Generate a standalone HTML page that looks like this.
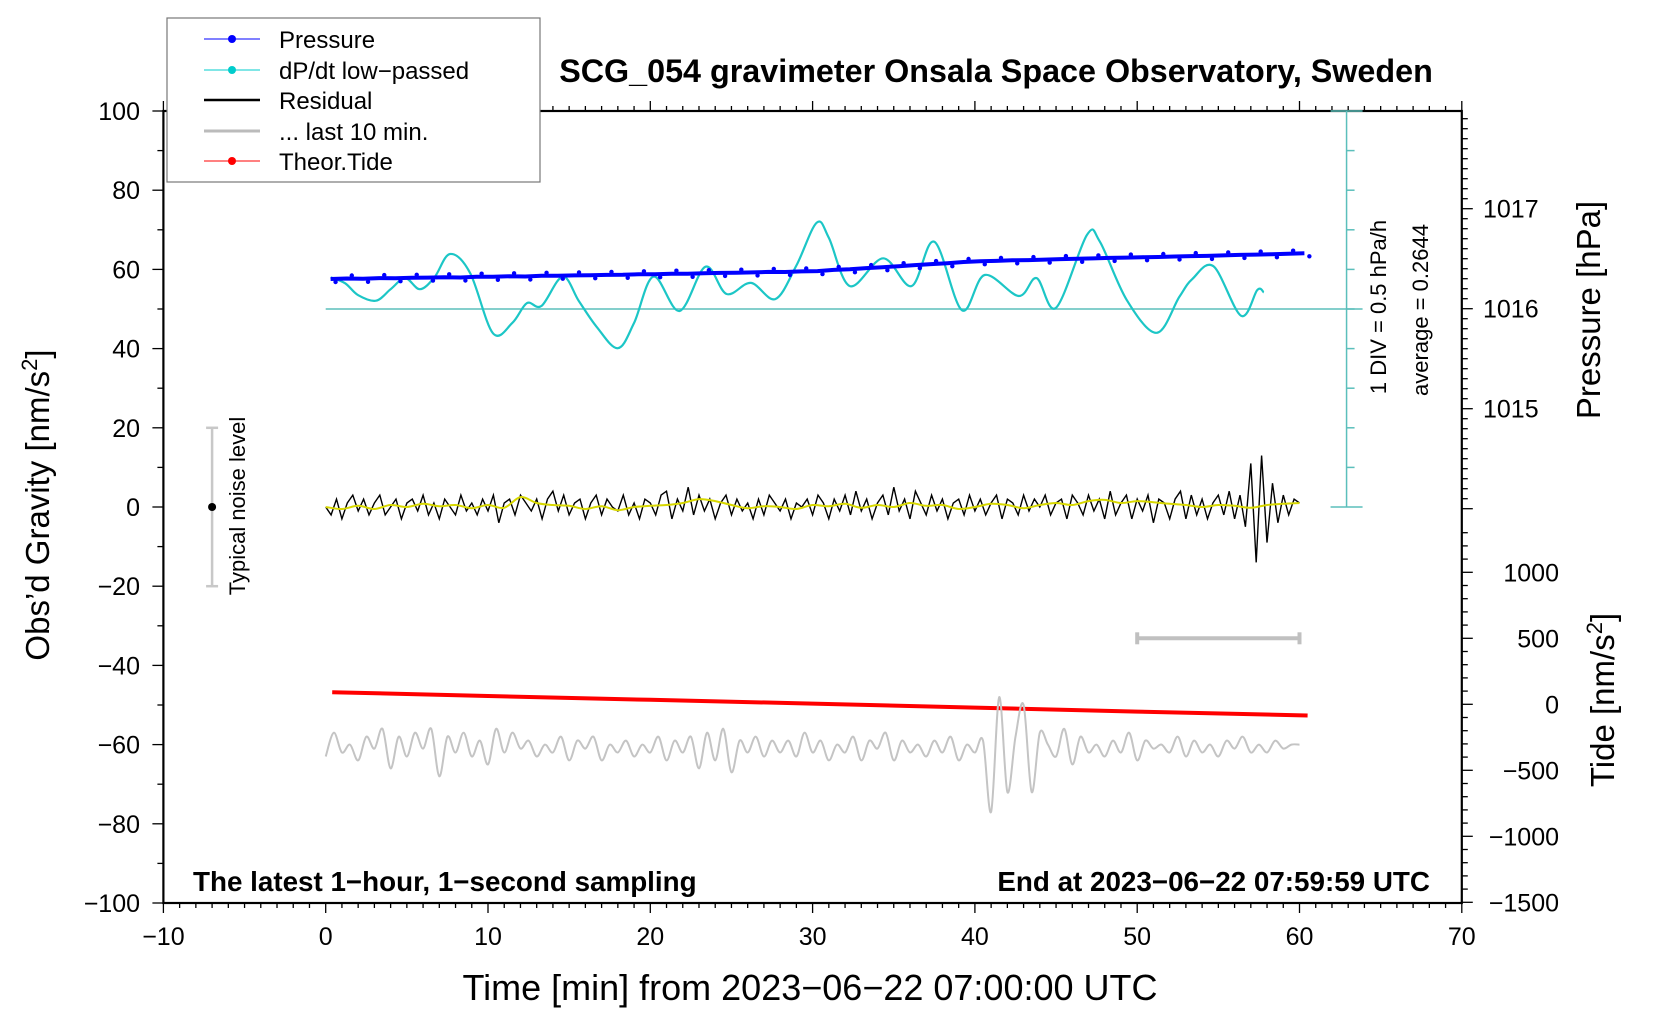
<!DOCTYPE html>
<html><head><meta charset="utf-8"><title>SCG_054 gravimeter</title>
<style>html,body{margin:0;padding:0;background:#fff}svg{display:block;font-family:"Liberation Sans",Arial,sans-serif}</style>
</head><body>
<svg id="chart" width="1660" height="1020" viewBox="0 0 1660 1020" xmlns="http://www.w3.org/2000/svg">
<rect x="0" y="0" width="1660" height="1020" fill="#fff"/>
<g id="plot"></g>
<text x="996" y="82" font-size="32.3" font-weight="bold" text-anchor="middle">SCG_054 gravimeter Onsala Space Observatory, Sweden</text>
<text x="810" y="1000" font-size="36" text-anchor="middle">Time [min] from 2023−06−22 07:00:00 UTC</text>
<text transform="translate(49,505) rotate(-90)" font-size="33" text-anchor="middle">Obs’d Gravity [nm/s<tspan dy="-12" font-size="22">2</tspan><tspan dy="12">]</tspan></text>
<text transform="translate(1600,310) rotate(-90)" font-size="33" text-anchor="middle">Pressure [hPa]</text>
<text transform="translate(1614,700) rotate(-90)" font-size="33" text-anchor="middle">Tide [nm/s<tspan dy="-12" font-size="22">2</tspan><tspan dy="12">]</tspan></text>
<text x="193" y="891" font-size="27.8" font-weight="bold">The latest 1−hour, 1−second sampling</text>
<text x="1430" y="891" font-size="27.8" font-weight="bold" text-anchor="end">End at 2023−06−22 07:59:59 UTC</text>
<text transform="translate(1386,307) rotate(-90)" font-size="22" text-anchor="middle">1 DIV = 0.5 hPa/h</text>
<text transform="translate(1428,310) rotate(-90)" font-size="22" text-anchor="middle">average = 0.2644</text>
<text transform="translate(245,506) rotate(-90)" font-size="22" text-anchor="middle">Typical noise level</text>
<g>
<rect x="167" y="18" width="373" height="164" fill="#fff" stroke="#777" stroke-width="1.2"/>
<g><line x1="204" y1="39" x2="260" y2="39" stroke="#00f" stroke-width="1"/><circle cx="232" cy="39" r="4" fill="#00f"/><text x="279" y="48" font-size="24">Pressure</text></g>
<g><line x1="204" y1="70" x2="260" y2="70" stroke="#0cc" stroke-width="1"/><circle cx="232" cy="70" r="4" fill="#0cc"/><text x="279" y="79" font-size="24">dP/dt low−passed</text></g>
<g><line x1="204" y1="100" x2="260" y2="100" stroke="#000" stroke-width="2.5"/><text x="279" y="109" font-size="24">Residual</text></g>
<g><line x1="204" y1="131" x2="260" y2="131" stroke="#bbb" stroke-width="3"/><text x="279" y="140" font-size="24">... last 10 min.</text></g>
<g><line x1="204" y1="161" x2="260" y2="161" stroke="#f00" stroke-width="1"/><circle cx="232" cy="161" r="4" fill="#f00"/><text x="279" y="170" font-size="24">Theor.Tide</text></g>
</g>
</svg>
<script>
// ---- data ----
const xTicks = [-10,0,10,20,30,40,50,60,70];
const gTicks = [-100,-80,-60,-40,-20,0,20,40,60,80,100];
const pTicks = [1015,1016,1017];
const tideTicks = [-1500,-1000,-500,0,500,1000];
const pressure = [1016.297,1016.302,1016.299,1016.306,1016.305,1016.309,1016.311,1016.314,1016.312,1016.320,1016.319,1016.324,1016.322,1016.329,1016.330,1016.333,1016.335,1016.338,1016.339,1016.344,
1016.345,1016.350,1016.349,1016.355,1016.358,1016.360,1016.363,1016.368,1016.367,1016.373,
1016.376,1016.388,1016.395,1016.406,1016.415,1016.425,1016.436,1016.446,1016.455,1016.467,
1016.475,1016.478,1016.484,1016.486,1016.491,1016.496,1016.499,1016.503,1016.508,1016.511,
1016.515,1016.517,1016.522,1016.526,1016.528,1016.533,1016.538,1016.541,1016.545,1016.550,1016.554];
const cyanT = [0.3,1.2,2.0,3.1,4.0,4.9,5.8,6.7,7.66,8.9,10.3,11.5,12.4,13.3,14.6,15.6,16.7,18.0,19.0,20.2,21.8,23.4,24.7,26.2,27.7,29.0,30.25,31.0,32.3,34.35,36.1,37.5,39.2,40.6,42.7,43.8,45.0,46.9,47.7,49.35,51.2,52.6,53.4,54.7,56.4,57.4,57.8];
const cyanRate = [.664,.589,.439,.369,.514,.654,.514,.664,.959,.719,-.041,.089,.339,.304,.674,.364,.039,-.231,.089,.674,.239,.799,.454,.594,.389,.814,1.354,1.164,.554,.904,.554,1.114,.249,.694,.429,.654,.279,1.199,1.114,.379,-.036,.419,.644,.804,.179,.504,.474];
const rateAverage = 0.2644;
const residual = [0,-2,2,-3,1,3,-1,2,-2,1,3,-2,0,2,-3,1,2,-1,3,-2,
1,-3,2,0,-2,3,-1,1,-2,2,-1,3,-4,1,2,-2,3,1,-1,2,
-3,2,4,-1,3,-2,1,2,-3,1,3,-2,2,0,-1,3,-2,1,-3,2,
1,-2,3,4,-3,2,-1,5,-2,3,-1,2,-3,1,3,-2,2,-1,1,-3,
2,-2,3,1,-1,2,-3,1,0,2,-2,3,1,-3,2,-1,3,-2,4,-1,
2,-3,1,3,-2,5,-1,2,-3,4,1,-2,3,-1,2,-3,1,2,-2,3,
-1,2,-2,1,3,-3,2,1,-2,3,-1,2,0,3,-2,1,2,-3,3,1,
-2,3,-1,2,-3,4,-2,1,3,-3,2,-1,3,-4,2,1,-3,2,4,-3,
3,-2,2,-3,1,3,-2,4,-3,3,-5,11,-14,13,-9,6,-4,3,-2,2,1];
const smoothed = [0,-0.5,0.3,-0.5,0.5,0,0.8,0.2,0.5,-0.3,0.5,-0.2,2.5,1,0.5,0.3,-0.5,0.2,-0.8,0,0.3,0.5,1,2,1.5,0.5,-0.3,0.2,0,-0.5,0.5,0.2,0.8,-0.2,0.5,0,1,0.3,0.5,-0.5,0,0.8,0.5,-0.3,0.5,1,0.5,1.5,1.8,1,1.5,1.2,0.8,0.5,0,0.5,0.3,-0.2,0.5,0.8,1];
const last10 = [-63,-57,-62,-60,-64,-58,-61,-56,-66,-58,-63,-57,-61,-56,-68,-58,-62,-57,-63,-59,
-65,-56,-62,-57,-61,-59,-63,-60,-62,-58,-64,-59,-61,-58,-64,-60,-62,-59,-63,-60,
-62,-58,-64,-59,-62,-58,-66,-57,-64,-56,-67,-59,-62,-58,-63,-59,-62,-59,-63,-57,
-62,-59,-64,-60,-62,-58,-64,-59,-61,-57,-64,-59,-62,-60,-63,-59,-62,-58,-64,-60,
-62,-59,-77,-48,-72,-58,-50,-72,-57,-60,-63,-56,-65,-58,-62,-60,-63,-59,-62,-57,
-64,-59,-61,-60,-62,-58,-63,-59,-62,-60,-63,-59,-61,-58,-62,-60,-62,-59,-61,-60,-60];
const tideT = [0.4,10,20,30,40,50,60.5];
const tideV = [92,63,34,5,-25,-55,-85];
const noiseT = -7;
const noiseRange = [-20,20];
const last10Range = [50,60];
const last10Level = 500;
// ---- scales ----
const X = t => 325.7 + t*16.23;
const G = g => 903 - (g+100)*3.96;
const P = p => 308.7 - (p-1016)*100;
const TD = v => 704.3 - v*0.132;
const R = v => G(50 + (v-rateAverage)*20);
const NS='http://www.w3.org/2000/svg';
const plot=document.getElementById('plot');
function mk(tag, attrs, parent){const e=document.createElementNS(NS,tag);for(const k in attrs)e.setAttribute(k,attrs[k]);(parent||plot).appendChild(e);return e;}
function cr(pts){let d='M'+pts[0][0].toFixed(1)+','+pts[0][1].toFixed(1);for(let i=0;i<pts.length-1;i++){const p0=pts[i-1]||pts[i],p1=pts[i],p2=pts[i+1],p3=pts[i+2]||p2;const c1=[p1[0]+(p2[0]-p0[0])/6,p1[1]+(p2[1]-p0[1])/6],c2=[p2[0]-(p3[0]-p1[0])/6,p2[1]-(p3[1]-p1[1])/6];d+='C'+c1[0].toFixed(1)+','+c1[1].toFixed(1)+' '+c2[0].toFixed(1)+','+c2[1].toFixed(1)+' '+p2[0].toFixed(1)+','+p2[1].toFixed(1);}return d;}
function lin(pts){return 'M'+pts.map(p=>p[0].toFixed(1)+','+p[1].toFixed(1)).join('L');}

const L=X(-10), Rt=X(70), Tp=G(100), Bt=G(-100);
let ax=mk('g',{});


mk('rect',{x:L,y:Tp,width:Rt-L,height:Bt-Tp,fill:'none',stroke:'#000','stroke-width':2.2},ax);
for(let t=-10;t<=70;t++){const x=X(t),maj=t%10===0;mk('line',{x1:x,y1:Bt,x2:x,y2:Bt+(maj?10:5),stroke:'#000','stroke-width':1.3},ax);mk('line',{x1:x,y1:Tp,x2:x,y2:Tp-(maj?10:5),stroke:'#000','stroke-width':1.3},ax);}
xTicks.forEach(t=>{const e=mk('text',{x:X(t),y:945,'font-size':25,'text-anchor':'middle'},ax);e.textContent=String(t).replace('-','−');});
for(let g=-100;g<=100;g+=10){const y=G(g),maj=g%20===0;mk('line',{x1:L,y1:y,x2:L-(maj?11:6),y2:y,stroke:'#000','stroke-width':1.3},ax);}
gTicks.forEach(g=>{const e=mk('text',{x:140,y:G(g)+9,'font-size':25,'text-anchor':'end'},ax);e.textContent=String(g).replace('-','−');});
for(let i=140;i<=179;i++){const p=1000+i/10,y=P(p),maj=i%10===0;mk('line',{x1:Rt,y1:y,x2:Rt+(maj?11:6),y2:y,stroke:'#000','stroke-width':1.3},ax);}
pTicks.forEach(p=>{const e=mk('text',{x:1483,y:P(p)+9,'font-size':25},ax);e.textContent=p;});
for(let v=-1500;v<=1300;v+=100){const y=TD(v),maj=v%500===0;mk('line',{x1:Rt,y1:y,x2:Rt+(maj?11:6),y2:y,stroke:'#000','stroke-width':1.3},ax);}
tideTicks.forEach(v=>{const e=mk('text',{x:1559,y:TD(v)+9,'font-size':25,'text-anchor':'end'},ax);e.textContent=String(v).replace('-','−');});

const sx=X(62.9);
let sb=mk('g',{stroke:'#5bbfbb','stroke-width':1.5});


mk('line',{x1:sx,y1:G(100),x2:sx,y2:G(0)},sb);
for(let g=10;g<100;g+=10)mk('line',{x1:sx,y1:G(g),x2:sx+8,y2:G(g)},sb);
mk('line',{x1:sx-16,y1:G(100),x2:sx+16,y2:G(100)},sb);
mk('line',{x1:sx-16,y1:G(0),x2:sx+16,y2:G(0)},sb);
let base=mk('line',{x1:X(0),y1:R(rateAverage),x2:sx+16,y2:R(rateAverage),stroke:'#5bbfbb','stroke-width':1.5});



let nb=mk('g',{});


mk('line',{x1:X(noiseT),y1:G(noiseRange[0]),x2:X(noiseT),y2:G(noiseRange[1]),stroke:'#c8c8c8','stroke-width':2.5},nb);
noiseRange.forEach(g=>mk('line',{x1:X(noiseT)-6,y1:G(g),x2:X(noiseT)+6,y2:G(g),stroke:'#c8c8c8','stroke-width':2.5},nb));
mk('circle',{cx:X(noiseT),cy:G(0),r:4,fill:'#000'},nb);

let lb=mk('g',{stroke:'#c0c0c0','stroke-width':4});


mk('line',{x1:X(last10Range[0]),y1:TD(last10Level),x2:X(last10Range[1]),y2:TD(last10Level)},lb);
last10Range.forEach(t=>mk('line',{x1:X(t),y1:TD(last10Level)-6,x2:X(t),y2:TD(last10Level)+6},lb));

let cy=mk('path',{d:cr(cyanT.map((t,i)=>[X(t),R(cyanRate[i])])),fill:'none',stroke:'#1cc6c6','stroke-width':2.2});



const pPts=pressure.map((p,i)=>[X(0.3+i),P(p)]);
let pl=mk('path',{d:lin(pPts),fill:'none',stroke:'#0000ff','stroke-width':4,'stroke-linejoin':'round'});


pPts.forEach((p,i)=>{const c=mk('circle',{cx:p[0]+5,cy:p[1]+(i%2===0?3:-3),r:2.2,fill:'#0000ff'});});

const n=residual.length;
let rl=mk('path',{d:lin(residual.map((v,i)=>[X(i*60/(n-1)),G(v)])),fill:'none',stroke:'#000','stroke-width':1.4});


let yl=mk('path',{d:cr(smoothed.map((v,i)=>[X(i),G(v)])),fill:'none',stroke:'#d8d800','stroke-width':2});



let tl=mk('path',{d:lin(tideT.map((t,i)=>[X(t),TD(tideV[i])])),fill:'none',stroke:'#ff0000','stroke-width':4});



const m=last10.length;
let gl=mk('path',{d:cr(last10.map((v,i)=>[X(i*60/(m-1)),G(v)])),fill:'none',stroke:'#c4c4c4','stroke-width':2});


</script>
</body></html>
